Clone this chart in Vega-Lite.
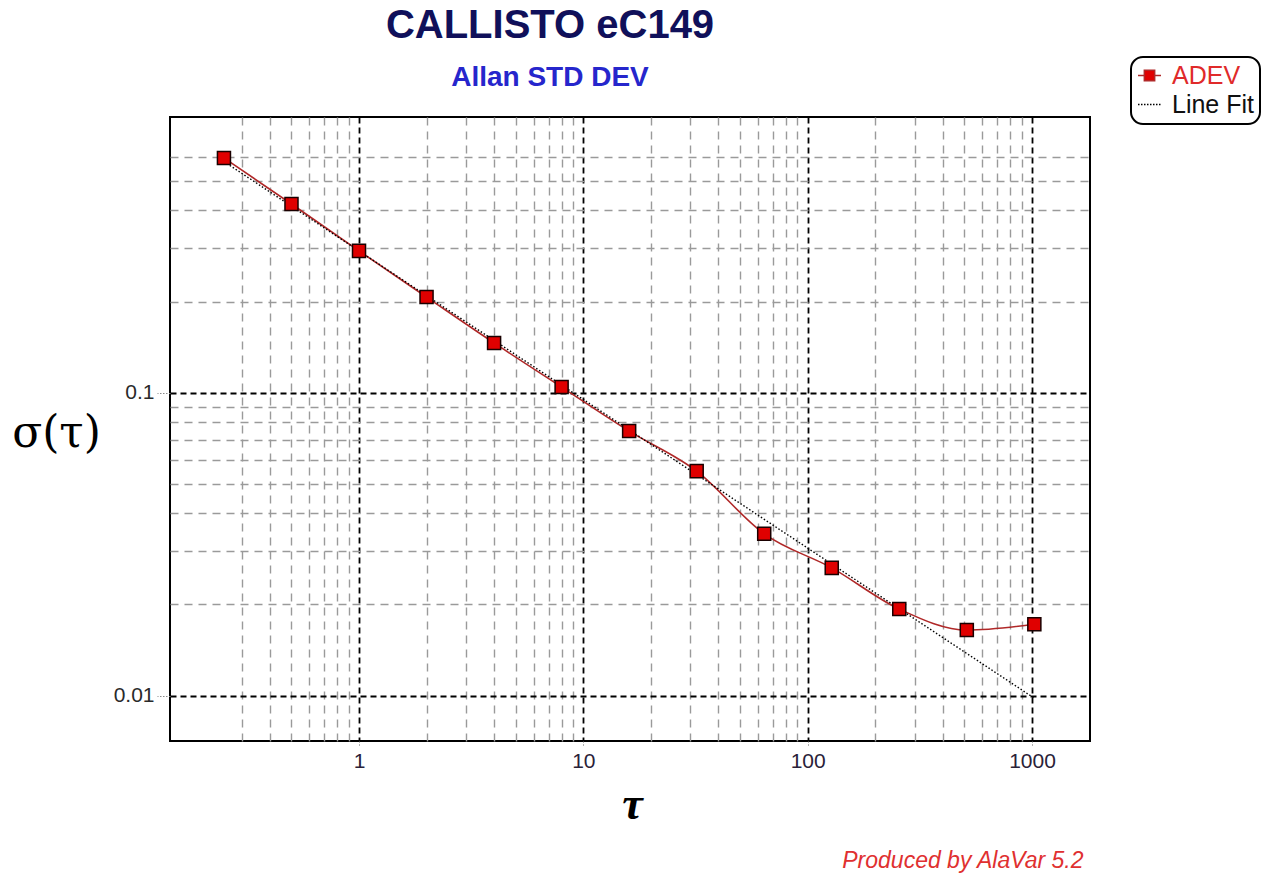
{
  "$schema": "https://vega.github.io/schema/vega-lite/v6.json",
  "width": 920,
  "height": 624,
  "autosize": {"type": "none"},
  "padding": {"left": 170, "top": 117, "right": 192, "bottom": 135},
  "background": "white",
  "config": {
    "view": {"stroke": "#000", "strokeWidth": 2},
    "font": "Liberation Sans"
  },
  "title": {
    "text": "CALLISTO eC149",
    "subtitle": "Allan STD DEV",
    "font": "Liberation Sans",
    "fontSize": 40,
    "fontWeight": "bold",
    "color": "#10105a",
    "subtitleFont": "Liberation Sans",
    "subtitleFontSize": 28,
    "subtitleFontWeight": "bold",
    "subtitleColor": "#2626cc",
    "subtitlePadding": 18,
    "anchor": "middle",
    "dx": -80,
    "offset": -36
  },
  "datasets": {
    "adev": [
      {"tau": 0.25, "adev": 0.596},
      {"tau": 0.5, "adev": 0.42},
      {"tau": 1, "adev": 0.294},
      {"tau": 2, "adev": 0.207},
      {"tau": 4, "adev": 0.146},
      {"tau": 8, "adev": 0.1044},
      {"tau": 16, "adev": 0.0747},
      {"tau": 32, "adev": 0.0551},
      {"tau": 64, "adev": 0.0342},
      {"tau": 128, "adev": 0.0264},
      {"tau": 256, "adev": 0.0193},
      {"tau": 512, "adev": 0.01645},
      {"tau": 1024, "adev": 0.0172}
    ],
    "fit": [
      {"tau": 0.25, "adev": 0.58},
      {"tau": 1024, "adev": 0.0098}
    ]
  },
  "resolve": {"axis": {"x": "independent"}},
  "encoding": {
    "y": {
      "field": "adev",
      "type": "quantitative",
      "scale": {"type": "log", "domain": [0.007079, 0.8137], "nice": false},
      "axis": {
        "values": [0.01, 0.02, 0.03, 0.04, 0.05, 0.06, 0.07, 0.08, 0.09, 0.1, 0.2, 0.3, 0.4, 0.5, 0.6],
        "format": "~g",
        "labelExpr": "(datum.value == 0.1 || datum.value == 0.01) ? datum.label : ''",
        "labelOverlap": false,
        "labelFlush": false,
        "labelFontSize": 21,
        "labelColor": "#2a2a2a",
        "labelPadding": 3,
        "grid": true,
        "gridColor": {"condition": {"test": "datum.value == 0.1 || datum.value == 0.01", "value": "#000000"}, "value": "#9a9a9a"},
        "gridDash": {"condition": {"test": "datum.value == 0.1 || datum.value == 0.01", "value": [6, 4]}, "value": [8, 6]},
        "gridWidth": {"condition": {"test": "datum.value == 0.1 || datum.value == 0.01", "value": 1.8}, "value": 1.4},
        "domain": false,
        "ticks": true,
        "tickSize": 13,
        "tickDash": [1.5, 1.5],
        "tickColor": {"condition": {"test": "datum.value == 0.1 || datum.value == 0.01", "value": "#888888"}, "value": "transparent"},
        "title": "σ(τ)",
        "titleFont": "DejaVu Serif",
        "titleFontWeight": "normal",
        "titleFontSize": 44,
        "titleColor": "#000000",
        "titleAngle": 0,
        "titleAlign": "center",
        "titleBaseline": "middle",
        "titleAnchor": null,
        "titleX": -114,
        "titleY": 316
      }
    }
  },
  "layer": [
    {
      "data": {"name": "adev"},
      "mark": {"type": "line", "interpolate": "monotone", "strokeWidth": 1.6},
      "encoding": {
        "x": {
          "field": "tau",
          "type": "quantitative",
          "scale": {"type": "log", "domain": [0.1437, 1813], "nice": false},
          "axis": {
            "values": [0.3, 0.4, 0.5, 0.6, 0.7, 0.8, 0.9, 1, 2, 3, 4, 5, 6, 7, 8, 9, 10, 20, 30, 40, 50, 60, 70, 80, 90, 100, 200, 300, 400, 500, 600, 700, 800, 900, 1000],
            "format": "~g",
            "labelExpr": "(datum.value == 1 || datum.value == 10 || datum.value == 100 || datum.value == 1000) ? datum.label : ''",
            "labelOverlap": false,
            "labelFlush": false,
            "labelFontSize": 21,
            "labelColor": "#2a2238",
            "labelPadding": 4,
            "grid": true,
            "gridColor": {"condition": {"test": "datum.value == 1 || datum.value == 10 || datum.value == 100 || datum.value == 1000", "value": "#000000"}, "value": "#9a9a9a"},
            "gridDash": {"condition": {"test": "datum.value == 1 || datum.value == 10 || datum.value == 100 || datum.value == 1000", "value": [6, 4]}, "value": [8, 6]},
            "gridWidth": {"condition": {"test": "datum.value == 1 || datum.value == 10 || datum.value == 100 || datum.value == 1000", "value": 1.8}, "value": 1.4},
            "domain": false,
            "ticks": true,
            "tickSize": 5,
            "tickDash": [1, 2],
            "tickColor": {"condition": {"test": "datum.value == 1 || datum.value == 10 || datum.value == 100 || datum.value == 1000", "value": "#666666"}, "value": "transparent"},
            "title": "τ",
            "titleFont": "Liberation Serif",
            "titleFontStyle": "italic",
            "titleFontWeight": "bold",
            "titleFontSize": 46,
            "titleColor": "#000000",
            "titleAlign": "center",
            "titleBaseline": "alphabetic",
            "titleAnchor": null,
            "titleX": 462,
            "titleY": 77
          }
        },
        "color": {
          "datum": "ADEV",
          "scale": {"domain": ["ADEV", "Line Fit"], "range": ["#b02828", "#000000"]},
          "legend": {
            "orient": "none",
            "legendX": 961,
            "legendY": -60,
            "title": null,
            "labelFont": "Liberation Sans",
            "labelFontSize": 25,
            "labelOffset": 10,
            "symbolSize": 529,
            "symbolStrokeWidth": 1.5,
            "padding": 6,
            "rowPadding": 3,
            "fillColor": "#ffffff",
            "strokeColor": "#000000",
            "cornerRadius": 12,
            "encode": {
              "legend": {"update": {"strokeWidth": {"value": 2}}},
              "symbols": {
                "update": {
                  "shape": {"signal": "datum.value === 'ADEV' ? 'M-1,0H-0.45M0.45,0H1M-0.45,-0.45H0.45V0.45H-0.45Z' : 'stroke'"},
                  "fill": {"signal": "datum.value === 'ADEV' ? '#e00000' : 'transparent'"},
                  "stroke": {"signal": "datum.value === 'ADEV' ? '#5a0000' : '#000000'"},
                  "strokeDash": {"signal": "datum.value === 'ADEV' ? [1, 0] : [1.5, 1.5]"}
                }
              },
              "labels": {
                "update": {
                  "fill": {"signal": "datum.value === 'ADEV' ? '#e02a2a' : '#101010'"}
                }
              }
            }
          }
        }
      }
    },
    {
      "data": {"name": "fit"},
      "mark": {"type": "line", "strokeDash": [1.5, 2], "strokeWidth": 1.4},
      "encoding": {
        "x": {
          "field": "tau",
          "type": "quantitative",
          "scale": {"type": "log", "domain": [0.1437, 1813], "nice": false},
          "axis": {
            "orient": "bottom",
            "labels": false,
            "ticks": false,
            "domain": false,
            "grid": false,
            "title": "Produced by AlaVar 5.2",
            "titleFont": "Liberation Sans",
            "titleFontStyle": "italic",
            "titleFontWeight": "normal",
            "titleFontSize": 23,
            "titleColor": "#e03030",
            "titleAlign": "right",
            "titleBaseline": "alphabetic",
            "titleAnchor": null,
            "titleX": 913,
            "titleY": 126
          }
        },
        "color": {"datum": "Line Fit"}
      }
    },
    {
      "data": {"name": "adev"},
      "mark": {"type": "point", "shape": "square", "filled": true, "size": 170, "fill": "#e00000", "stroke": "#1a0000", "strokeWidth": 1.5, "opacity": 1},
      "encoding": {
        "x": {
          "field": "tau",
          "type": "quantitative",
          "scale": {"type": "log", "domain": [0.1437, 1813], "nice": false},
          "axis": null
        }
      }
    }
  ]
}
